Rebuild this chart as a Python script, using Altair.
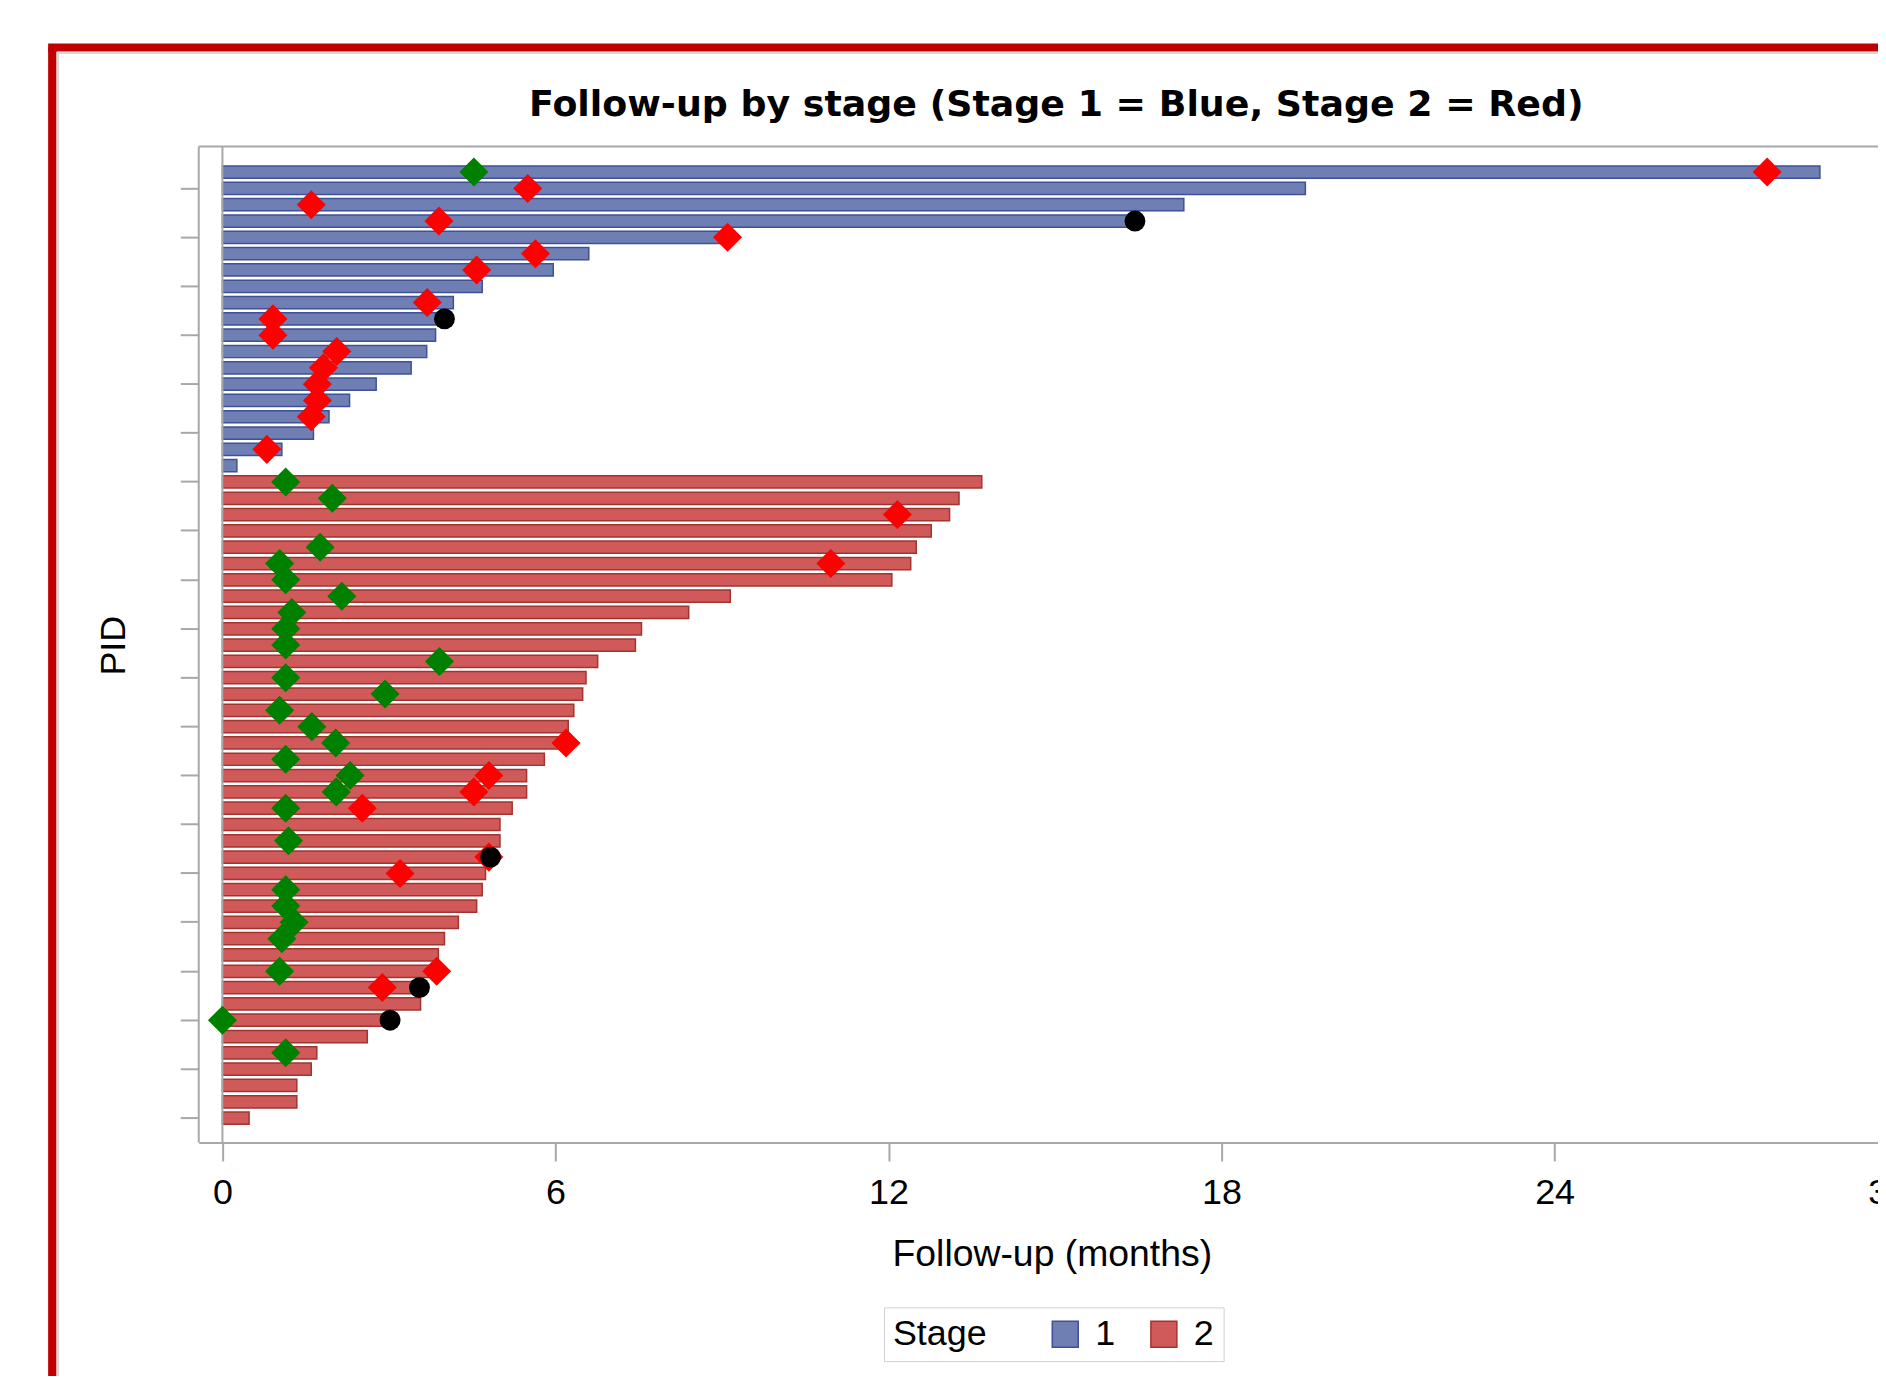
import altair as alt
import pandas as pd

# ---------------- data ----------------
pids = [str(i) for i in range(1, 60)]
stage = ["1"] * 19 + ["2"] * 40
followup = [28.78, 19.51, 17.32, 16.35, 9.2, 6.6, 5.96, 4.68, 4.16, 3.9,
            3.84, 3.68, 3.4, 2.77, 2.29, 1.92, 1.64, 1.07, 0.26,
            13.68, 13.27, 13.1, 12.77, 12.5, 12.4, 12.06, 9.15, 8.4, 7.55,
            7.44, 6.76, 6.55, 6.49, 6.33, 6.23, 6.15, 5.8, 5.48, 5.48,
            5.22, 5.0, 5.0, 4.75, 4.74, 4.68, 4.58, 4.25, 4.0, 3.89,
            3.78, 3.45, 3.57, 2.88, 2.61, 1.7, 1.6, 1.34, 1.34, 0.48]

green_pid = ["1", "20", "21", "24", "25", "26", "27", "28", "29", "30",
             "31", "32", "33", "34", "35", "36", "37", "38", "39", "40",
             "42", "45", "46", "47", "48", "50", "53", "55"]
green_time = [4.53, 1.14, 1.98, 1.76, 1.03, 1.14, 2.15, 1.25, 1.14, 1.14,
              3.91, 1.14, 2.93, 1.03, 1.61, 2.04, 1.14, 2.3, 2.05, 1.14,
              1.19, 1.14, 1.14, 1.29, 1.07, 1.03, 0.0, 1.14]

red_pid = ["1", "2", "3", "4", "5", "6", "7", "9", "10", "11",
           "12", "13", "14", "15", "16", "18", "22", "25", "36", "38",
           "39", "40", "43", "44", "50", "51"]
red_time = [27.83, 5.5, 1.6, 3.9, 9.1, 5.64, 4.58, 3.69, 0.91, 0.91,
            2.06, 1.82, 1.71, 1.71, 1.6, 0.8, 12.16, 10.96, 6.19, 4.8,
            4.53, 2.52, 4.8, 3.2, 3.86, 2.88]

black_pid = ["4", "10", "43", "51", "53"]
black_time = [16.44, 4.0, 4.83, 3.55, 3.02]

x_ticks = [0, 6, 12, 18, 24, 30]
stage_levels = ["1", "2"]

TITLE = "Follow-up by stage (Stage 1 = Blue, Stage 2 = Red)"
XTITLE = "Follow-up (months)"
YTITLE = "PID"

# ---------------- layout / style ----------------
W, H = 1712, 1000
XMIN, XMAX = -0.427, 30.293
GRAY = "#A5A8AD"
FONT = "Liberation Sans"
BLUE, BLUE_D = "#6F7FB4", "#3E5097"
RED, RED_D = "#D05A5A", "#A3332F"

bars_df = pd.DataFrame({"pid": pids, "stage": stage, "followup": followup})
green_df = pd.DataFrame({"pid": green_pid, "followup": green_time})
red_df = pd.DataFrame({"pid": red_pid, "followup": red_time})
black_df = pd.DataFrame({"pid": black_pid, "followup": black_time})
one = pd.DataFrame({"k": [0]})

x_scale = alt.Scale(domain=[XMIN, XMAX], nice=False, zero=False)
y_scale = alt.Scale(domain=pids, paddingInner=0.25, paddingOuter=1, range=[3.2, 998])

x_axis = alt.Axis(
    title=XTITLE, values=x_ticks, grid=False,
    tickSize=18.5, tickColor=GRAY, tickWidth=2,
    domainColor=GRAY, domainWidth=2,
    labelFont=FONT, labelFontSize=36, labelColor="black",
    labelBaseline="alphabetic", labelPadding=43.2, labelFlush=False,
    labelOverlap=False,
    titleFont=FONT, titleFontSize=37.5, titleFontWeight="normal",
    titleColor="black", titleX=856.5, titleY=123.5,
    titleBaseline="alphabetic", titleAlign="center",
)
y_axis = alt.Axis(
    title=YTITLE, labels=False, values=pids[1::3], domain=False,
    tickSize=18.5, tickColor=GRAY, tickWidth=2,
    titleFont=FONT, titleFontSize=36, titleFontWeight="normal",
    titleColor="black", titleAngle=270, titleX=-86, titleY=500.7,
    titleAlign="center", titleBaseline="middle",
)

legend = alt.Legend(
    title="Stage", orient="none", legendX=688, legendY=1165.5,
    direction="horizontal", titleOrient="left",
    titleFont=FONT, titleFontSize=36, titleFontWeight="normal", titleColor="black",
    labelFont=FONT, labelFontSize=36, labelColor="black",
    symbolType="square", symbolSize=680, symbolStrokeWidth=1.5,
    strokeColor="#D0D0D0", padding=9, titlePadding=60,
    labelOffset=12, columnPadding=30,
)


def xy():
    return dict(
        x=alt.X("followup:Q", scale=x_scale, axis=x_axis),
        y=alt.Y("pid:N", scale=y_scale, axis=y_axis),
    )


bars = alt.Chart(bars_df).mark_bar(strokeWidth=1.5).encode(
    x2=alt.datum(0),
    fill=alt.Fill("stage:N", scale=alt.Scale(domain=stage_levels, range=[BLUE, RED]), legend=legend),
    stroke=alt.Stroke("stage:N", scale=alt.Scale(domain=stage_levels, range=[BLUE_D, RED_D]), legend=legend),
    **xy(),
)

zero_line = alt.Chart(pd.DataFrame({"followup": [0]})).mark_rule(
    color=GRAY, strokeWidth=2
).encode(x=alt.X("followup:Q", scale=x_scale, axis=x_axis))

green = alt.Chart(green_df).mark_point(
    shape="diamond", filled=True, size=850, color="#008000", opacity=1
).encode(**xy())
red = alt.Chart(red_df).mark_point(
    shape="diamond", filled=True, size=850, color="#FF0000", opacity=1
).encode(**xy())
black = alt.Chart(black_df).mark_point(
    shape="circle", filled=True, size=440, color="#000000", opacity=1
).encode(**xy())

frame_top = alt.Chart(one).mark_rule(color=GRAY, strokeWidth=2).encode(
    x=alt.value(0), x2=alt.value(W), y=alt.value(0))
frame_left = alt.Chart(one).mark_rule(color=GRAY, strokeWidth=2).encode(
    x=alt.value(0), y=alt.value(0), y2=alt.value(H))

# decorative page border (red) with its light inner shadow
border_left = alt.Chart(one).mark_rule(color="#C00000", strokeWidth=8.4).encode(
    x=alt.value(-147), y=alt.value(-99.3), y2=alt.value(1300))
border_top = alt.Chart(one).mark_rule(color="#C00000", strokeWidth=8.4).encode(
    x=alt.value(-151.2), x2=alt.value(1800), y=alt.value(-99.3))
shadow_left = alt.Chart(one).mark_rule(color="#D8D8D8", strokeWidth=2.5).encode(
    x=alt.value(-141.5), y=alt.value(-95), y2=alt.value(1300))
shadow_top = alt.Chart(one).mark_rule(color="#D8D8D8", strokeWidth=2.5).encode(
    x=alt.value(-141.5), x2=alt.value(1800), y=alt.value(-94))

chart = alt.layer(
    border_left, border_top, shadow_left, shadow_top, frame_top, frame_left,
    bars, zero_line, green, red, black,
).properties(
    width=W, height=H,
    title=alt.TitleParams(
        text=TITLE, font="DejaVu Sans", fontSize=36.5, fontWeight="bold",
        color="black", anchor="middle", frame="group",
        baseline="alphabetic", offset=0, dy=109.5, dx=5,
    ),
    autosize=alt.AutoSizeParams(type="none"),
    padding={"left": 191.5, "top": 136.3, "right": -26, "bottom": 232},
    background="white",
).configure_view(strokeWidth=0)

chart.save("out.html", embed_options={"renderer": "svg", "actions": False})
